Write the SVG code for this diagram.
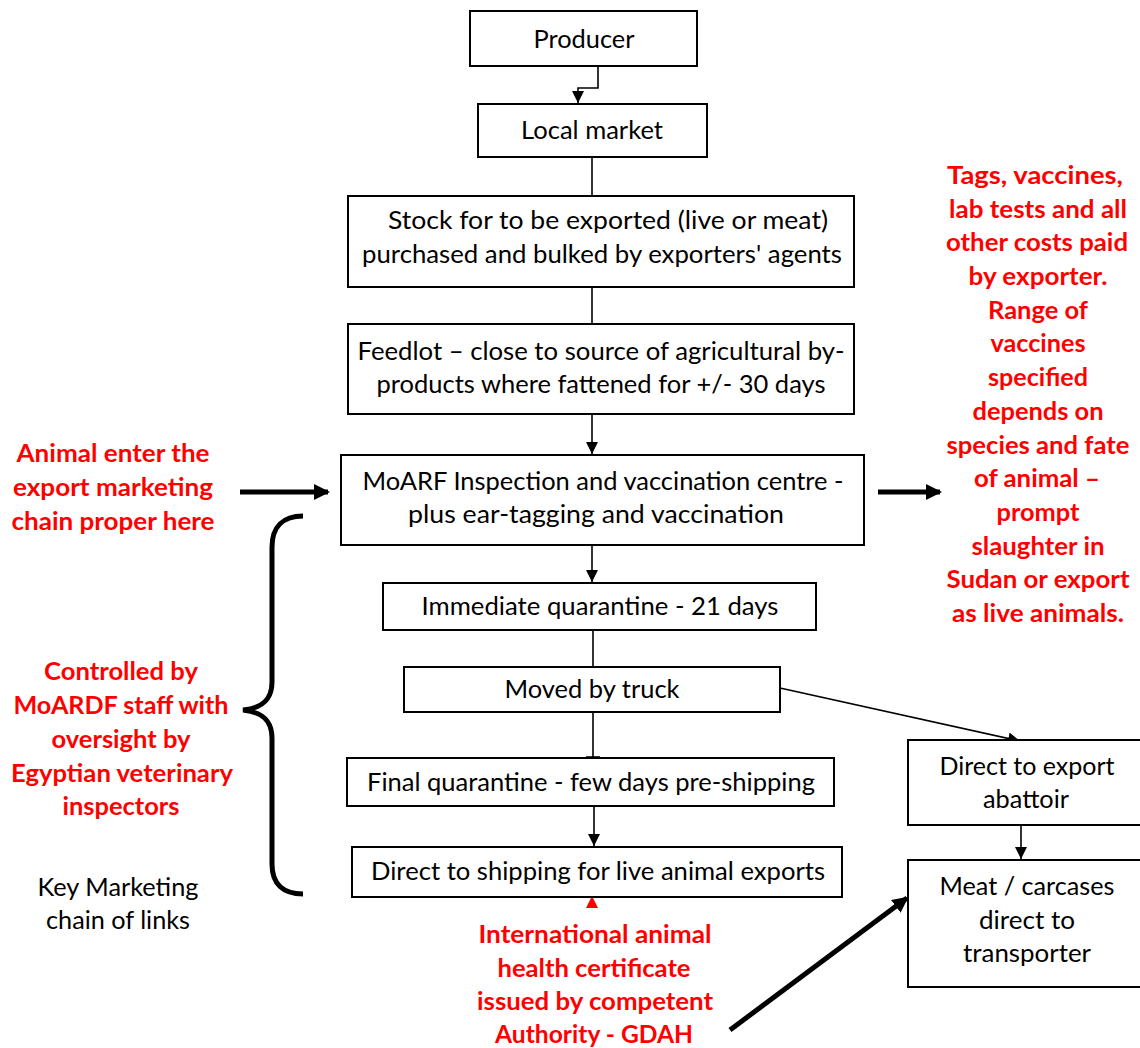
<svg xmlns="http://www.w3.org/2000/svg" width="1140" height="1048" viewBox="0 0 1140 1048">
<style>
.box{fill:#fff;stroke:#000;stroke-width:2}
.t{font-family:Lato,"Open Sans","Liberation Sans",sans-serif;font-size:25px;fill:#000;text-anchor:middle}
.r{font-family:Lato,"Open Sans","Liberation Sans",sans-serif;font-size:25px;font-weight:bold;fill:#ff0000;text-anchor:middle}
.ln{stroke:#000;stroke-width:1.6;fill:none}
.thick{stroke:#000;stroke-width:5;fill:none}
</style>
<defs>
<marker id="ah" viewBox="0 0 12 12" refX="12" refY="6" markerWidth="12" markerHeight="12" markerUnits="userSpaceOnUse" orient="auto">
<path d="M0,0 L12,6 L0,12 Z" fill="#000"/>
</marker>
<marker id="ahb" viewBox="0 0 16 16" refX="14" refY="8" markerWidth="16" markerHeight="16" markerUnits="userSpaceOnUse" orient="auto">
<path d="M0,0 L16,8 L0,16 Z" fill="#000"/>
</marker>
</defs>

<g id="connectors">
<path class="ln" d="M598,66 V88 H578 V103" marker-end="url(#ah)"/>
<line class="ln" x1="592" y1="157" x2="592" y2="196"/>
<line class="ln" x1="592" y1="287" x2="592" y2="324"/>
<line class="ln" x1="592" y1="414" x2="592" y2="454" marker-end="url(#ah)"/>
<line class="ln" x1="592" y1="545" x2="592" y2="582" marker-end="url(#ah)"/>
<line class="ln" x1="593" y1="630" x2="593" y2="667"/>
<line class="ln" x1="593" y1="712" x2="593" y2="757"/>
<line class="ln" x1="586" y1="757" x2="600" y2="757"/>
<line class="ln" x1="594" y1="806" x2="594" y2="846" marker-end="url(#ah)"/>
<line class="ln" x1="780" y1="688" x2="1020" y2="741" marker-end="url(#ah)"/>
<line class="ln" x1="1021" y1="825" x2="1021" y2="859" marker-end="url(#ah)"/>
<polygon points="592,896 586,908 598,908" fill="#ff0000"/>
<line class="thick" x1="240" y1="492" x2="328" y2="492" marker-end="url(#ahb)"/>
<line class="thick" x1="878" y1="492" x2="940" y2="492" marker-end="url(#ahb)"/>
<line class="thick" x1="730" y1="1030" x2="907" y2="898" marker-end="url(#ahb)"/>
<path class="thick" d="M303,516 C283,516 272,527 272,547 L272,682 C272,700 262,708 243,710 C262,712 272,720 272,738 L272,864 C272,884 283,894 303,894"/>
</g>

<g id="producer">
<rect class="box" x="470" y="11" width="227" height="55"/>
<text class="t" x="584" y="48" textLength="101" lengthAdjust="spacingAndGlyphs">Producer</text>
</g>
<g id="local-market">
<rect class="box" x="478" y="104" width="229" height="53"/>
<text class="t" x="592" y="139" textLength="142" lengthAdjust="spacingAndGlyphs">Local market</text>
</g>
<g id="stock">
<rect class="box" x="348" y="196" width="506" height="91"/>
<text class="t" x="608" y="229" textLength="440" lengthAdjust="spacingAndGlyphs">Stock for to be exported (live or meat)</text>
<text class="t" x="602" y="263" textLength="480" lengthAdjust="spacingAndGlyphs">purchased and bulked by exporters' agents</text>
</g>
<g id="feedlot">
<rect class="box" x="348" y="324" width="506" height="90"/>
<text class="t" x="601" y="360" textLength="487" lengthAdjust="spacingAndGlyphs">Feedlot – close to source of agricultural by-</text>
<text class="t" x="601" y="393" textLength="449" lengthAdjust="spacingAndGlyphs">products where fattened for +/- 30 days</text>
</g>
<g id="moarf">
<rect class="box" x="341" y="455" width="523" height="90"/>
<text class="t" x="603" y="490" textLength="481" lengthAdjust="spacingAndGlyphs">MoARF Inspection and vaccination centre -</text>
<text class="t" x="596" y="523" textLength="376" lengthAdjust="spacingAndGlyphs">plus ear-tagging and vaccination</text>
</g>
<g id="immediate-quarantine">
<rect class="box" x="383" y="583" width="433" height="47"/>
<text class="t" x="600" y="615" textLength="357" lengthAdjust="spacingAndGlyphs">Immediate quarantine - 21 days</text>
</g>
<g id="truck">
<rect class="box" x="404" y="667" width="376" height="45"/>
<text class="t" x="592" y="698" textLength="175" lengthAdjust="spacingAndGlyphs">Moved by truck</text>
</g>
<g id="final-quarantine">
<rect class="box" x="347" y="758" width="487" height="48"/>
<text class="t" x="591" y="791" textLength="448" lengthAdjust="spacingAndGlyphs">Final quarantine - few days pre-shipping</text>
</g>
<g id="shipping">
<rect class="box" x="352" y="847" width="490" height="50"/>
<text class="t" x="598" y="880" textLength="454" lengthAdjust="spacingAndGlyphs">Direct to shipping for live animal exports</text>
</g>
<g id="abattoir">
<rect class="box" x="908" y="740" width="240" height="85"/>
<text class="t" x="1027" y="775" textLength="175" lengthAdjust="spacingAndGlyphs">Direct to export</text>
<text class="t" x="1026" y="808" textLength="86" lengthAdjust="spacingAndGlyphs">abattoir</text>
</g>
<g id="meat">
<rect class="box" x="908" y="860" width="240" height="127"/>
<text class="t" x="1027" y="895" textLength="175" lengthAdjust="spacingAndGlyphs">Meat / carcases</text>
<text class="t" x="1027" y="929" textLength="96" lengthAdjust="spacingAndGlyphs">direct to</text>
<text class="t" x="1027" y="962" textLength="128" lengthAdjust="spacingAndGlyphs">transporter</text>
</g>

<g id="note-enter">
<text class="r" x="113" y="462" textLength="193" lengthAdjust="spacingAndGlyphs">Animal enter the</text>
<text class="r" x="113" y="496" textLength="200" lengthAdjust="spacingAndGlyphs">export marketing</text>
<text class="r" x="113" y="530" textLength="203" lengthAdjust="spacingAndGlyphs">chain proper here</text>
</g>
<g id="note-controlled">
<text class="r" x="121" y="680" textLength="154" lengthAdjust="spacingAndGlyphs">Controlled by</text>
<text class="r" x="121" y="714" textLength="215" lengthAdjust="spacingAndGlyphs">MoARDF staff with</text>
<text class="r" x="121" y="748" textLength="139" lengthAdjust="spacingAndGlyphs">oversight by</text>
<text class="r" x="122" y="782" textLength="222" lengthAdjust="spacingAndGlyphs">Egyptian veterinary</text>
<text class="r" x="121" y="815" textLength="117" lengthAdjust="spacingAndGlyphs">inspectors</text>
</g>
<g id="key">
<text class="t" x="118" y="896" textLength="161" lengthAdjust="spacingAndGlyphs">Key Marketing</text>
<text class="t" x="118" y="929" textLength="144" lengthAdjust="spacingAndGlyphs">chain of links</text>
</g>
<g id="note-costs">
<text class="r" x="1035" y="184" textLength="176" lengthAdjust="spacingAndGlyphs">Tags, vaccines,</text>
<text class="r" x="1038" y="218" textLength="178" lengthAdjust="spacingAndGlyphs">lab tests and all</text>
<text class="r" x="1037" y="251" textLength="182" lengthAdjust="spacingAndGlyphs">other costs paid</text>
<text class="r" x="1038" y="285" textLength="139" lengthAdjust="spacingAndGlyphs">by exporter.</text>
<text class="r" x="1038" y="319" textLength="100" lengthAdjust="spacingAndGlyphs">Range of</text>
<text class="r" x="1038" y="352" textLength="95" lengthAdjust="spacingAndGlyphs">vaccines</text>
<text class="r" x="1038" y="386" textLength="100" lengthAdjust="spacingAndGlyphs">specified</text>
<text class="r" x="1038" y="420" textLength="131" lengthAdjust="spacingAndGlyphs">depends on</text>
<text class="r" x="1038" y="454" textLength="183" lengthAdjust="spacingAndGlyphs">species and fate</text>
<text class="r" x="1037" y="487" textLength="126" lengthAdjust="spacingAndGlyphs">of animal –</text>
<text class="r" x="1038" y="521" textLength="83" lengthAdjust="spacingAndGlyphs">prompt</text>
<text class="r" x="1038" y="555" textLength="133" lengthAdjust="spacingAndGlyphs">slaughter in</text>
<text class="r" x="1038" y="588" textLength="183" lengthAdjust="spacingAndGlyphs">Sudan or export</text>
<text class="r" x="1038" y="622" textLength="172" lengthAdjust="spacingAndGlyphs">as live animals.</text>
</g>
<g id="note-certificate">
<text class="r" x="595" y="943" textLength="233" lengthAdjust="spacingAndGlyphs">International animal</text>
<text class="r" x="594" y="977" textLength="193" lengthAdjust="spacingAndGlyphs">health certificate</text>
<text class="r" x="595" y="1010" textLength="236" lengthAdjust="spacingAndGlyphs">issued by competent</text>
<text class="r" x="594" y="1043" textLength="198" lengthAdjust="spacingAndGlyphs">Authority - GDAH</text>
</g>
</svg>
